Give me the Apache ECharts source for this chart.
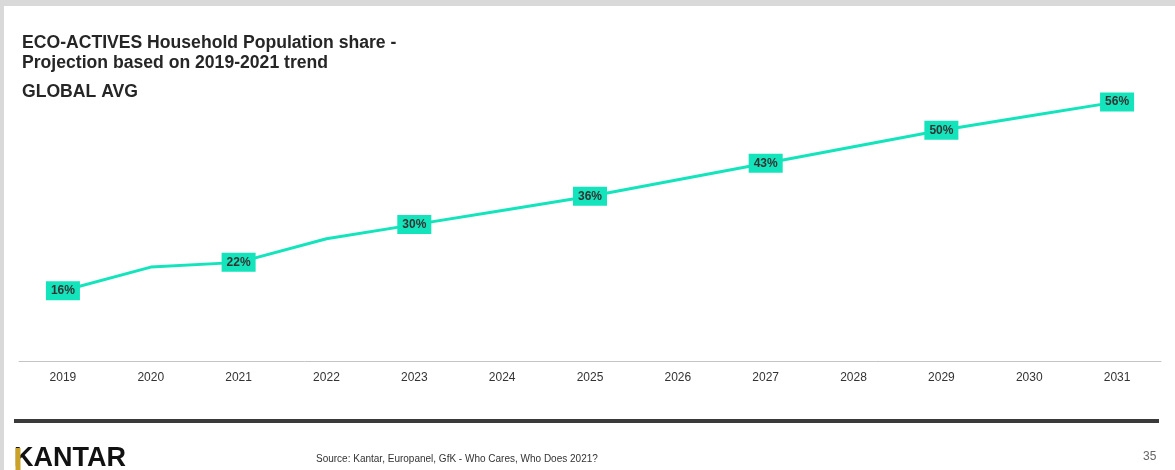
<!DOCTYPE html>
<html>
<head>
<meta charset="utf-8">
<script src="https://cdn.jsdelivr.net/npm/echarts@6/dist/echarts.min.js"></script>
<style>
  html, body { margin: 0; padding: 0; background: #ffffff; }
  #chart { width: 1175px; height: 470px; }
</style>
</head>
<body>
<div id="chart"></div>
<script>
// Eco-actives share of households, global average (projection beyond 2021)
const years = ['2019', '2020', '2021', '2022', '2023', '2024', '2025',
               '2026', '2027', '2028', '2029', '2030', '2031'];
const shareValues = [16, 21, 22, 27, 30, 33, 36, 39.5, 43, 46.5, 50, 53, 56];
const labelledYears = ['2019', '2021', '2023', '2025', '2027', '2029', '2031'];

const titleLines = ['ECO-ACTIVES Household Population share -',
                    'Projection based on 2019-2021 trend'];
const subTitle = 'GLOBAL AVG';
const sourceText = 'Source: Kantar, Europanel, GfK - Who Cares, Who Does 2021?';
const pageNumber = '35';

const MINT = '#14e4bb';
const FONT = '"Liberation Sans", Arial, sans-serif';

const seriesData = shareValues.map((v, i) => ({
  value: v,
  label: { show: labelledYears.includes(years[i]) }
}));

const chart = echarts.init(document.getElementById('chart'), null, { renderer: 'canvas' });

chart.setOption({
  backgroundColor: '#ffffff',
  animation: false,
  textStyle: { fontFamily: FONT },
  grid: { left: 19, right: 14, top: 83, bottom: 108.5, containLabel: false },
  xAxis: {
    type: 'category',
    data: years,
    boundaryGap: true,
    axisLine: { show: true, lineStyle: { color: '#c4c4c4', width: 1 } },
    axisTick: { show: false },
    axisLabel: { color: '#333333', fontSize: 12, fontFamily: FONT, margin: 10 },
    splitLine: { show: false }
  },
  yAxis: {
    type: 'value',
    min: 1,
    max: 60,
    show: false,
    splitLine: { show: false }
  },
  series: [{
    type: 'line',
    data: seriesData,
    symbol: 'circle',
    symbolSize: 1,
    showSymbol: true,
    itemStyle: { color: MINT },
    lineStyle: { color: MINT, width: 3 },
    label: {
      show: false,
      position: 'inside',
      formatter: p => Math.round(p.value) + '%',
      color: '#333333',
      fontSize: 12,
      fontWeight: 'bold',
      fontFamily: FONT,
      backgroundColor: MINT,
      padding: [3, 5, 3, 5],
      lineHeight: 13
    },
    labelLayout: { hideOverlap: false }
  }],
  graphic: [
    // gray page frame along the top and left edges
    { type: 'rect', left: 0, top: 0, shape: { width: 1175, height: 6 }, style: { fill: '#d9d9d9' }, silent: true },
    { type: 'rect', left: 0, top: 0, shape: { width: 4, height: 470 }, style: { fill: '#d9d9d9' }, silent: true },
    // heading
    { type: 'text', left: 22, top: 33.5, style: { text: titleLines.join('\n'), fill: '#262626', font: 'bold 17.6px ' + FONT, lineHeight: 20 } },
    { type: 'text', left: 22, top: 83.5, style: { text: subTitle, fill: '#262626', font: 'bold 17.6px ' + FONT } },
    // footer rule
    { type: 'rect', left: 14, top: 419, shape: { width: 1145, height: 4 }, style: { fill: '#3a3a3a' }, silent: true },
    // footer: brand with gold K stem, source, page number
    { type: 'text', left: 14, top: 445, style: { text: 'KANTAR', fill: '#111111', font: 'bold 27px ' + FONT } },
    { type: 'rect', left: 15.5, top: 448, shape: { width: 5, height: 22 }, style: { fill: '#c9a227' }, silent: true },
    { type: 'text', left: 316, top: 454, style: { text: sourceText, fill: '#333333', font: '10px ' + FONT } },
    { type: 'text', left: 1143, top: 451, style: { text: pageNumber, fill: '#666666', font: '12px ' + FONT } }
  ]
});
</script>
</body>
</html>
